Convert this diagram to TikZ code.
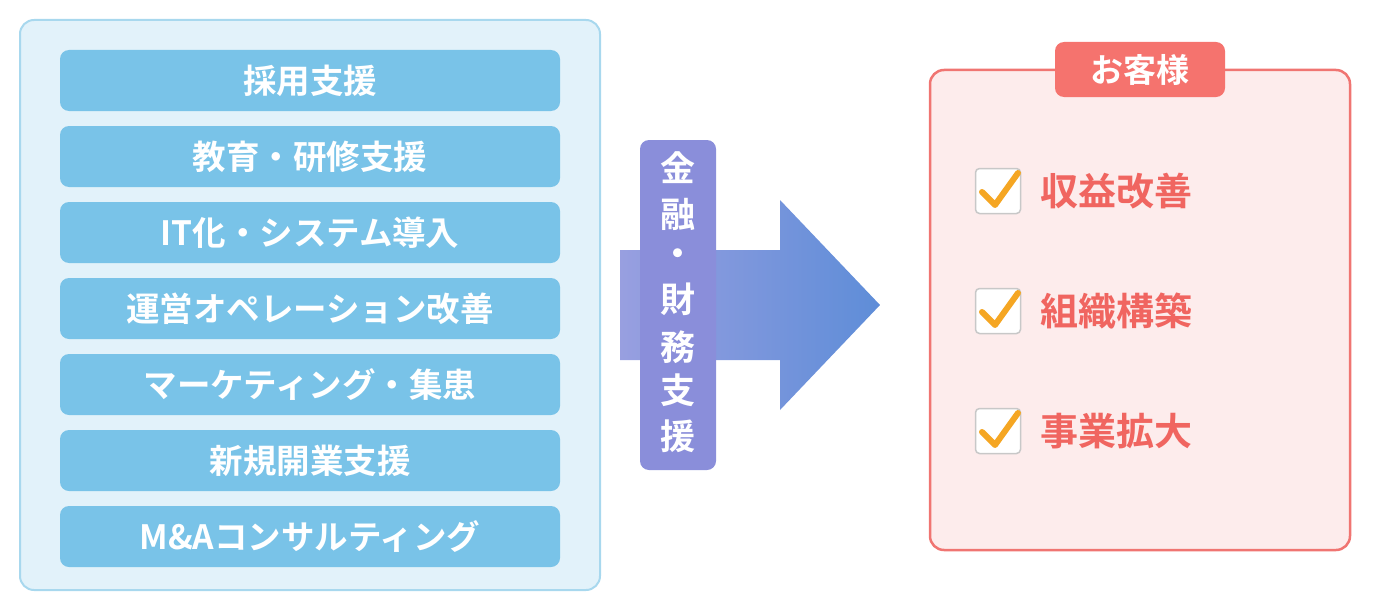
\documentclass[tikz,border=0pt]{standalone}
\usepackage{fontspec}
\setmainfont{Noto Sans CJK JP}[BoldFont={Noto Sans CJK JP Bold}]
\newfontfamily\jpb{Noto Sans CJK JP Bold}
\definecolor{outerfill}{HTML}{E2F2FA}
\definecolor{outerline}{HTML}{A8D8EE}
\definecolor{itemfill}{HTML}{79C3E8}
\definecolor{arrowL}{HTML}{989FE0}
\definecolor{arrowR}{HTML}{5E8DD8}
\definecolor{labelfill}{HTML}{8A8EDA}
\definecolor{custfill}{HTML}{FDECEC}
\definecolor{custline}{HTML}{F07572}
\definecolor{tabfill}{HTML}{F5736E}
\definecolor{goaltext}{HTML}{F06560}
\definecolor{boxline}{HTML}{C8C8C8}
\definecolor{checkcol}{HTML}{F5A623}
\begin{document}
\begin{tikzpicture}[x=1pt,y=-1pt,
  itembox/.style={fill=itemfill, rounded corners=9pt, minimum width=500pt, minimum height=61pt, inner sep=0pt,
    text=white, font=\jpb\fontsize{33.5}{33.5}\selectfont},
  goal/.style={anchor=west, text=goaltext, inner sep=0pt, font=\jpb\fontsize{38}{38}\selectfont},
  cbox/.style={draw=boxline, line width=1.5pt, fill=white, rounded corners=4pt, minimum size=45pt, inner sep=0pt},
  checkline/.style={draw=checkcol, line width=6pt, line cap=round, line join=round}]
\useasboundingbox (0,0) rectangle (1400,610);
% left panel
\node[draw=outerline, line width=2pt, fill=outerfill, rounded corners=14pt, minimum width=580pt, minimum height=570pt, inner sep=0pt] (panel) at (310,305) {};
\node[itembox] (i1) at (310,80.5) {採用支援};
\node[itembox] (i2) at (310,156.5) {教育・研修支援};
\node[itembox] (i3) at (310,232.5) {IT化・システム導入};
\node[itembox] (i4) at (310,308.5) {運営オペレーション改善};
\node[itembox] (i5) at (310,384.5) {マーケティング・集患};
\node[itembox] (i6) at (310,460.5) {新規開業支援};
\node[itembox] (i7) at (310,536.5) {M\&Aコンサルティング};
% arrow
\shade[left color=arrowL, right color=arrowR] (620,250) -- (780,250) -- (780,200) -- (880,305) -- (780,410) -- (780,360) -- (620,360) -- cycle;
\node[fill=labelfill, rounded corners=9pt, minimum width=76pt, minimum height=330pt, inner sep=0pt] (lbl) at (678,305) {};
\begin{scope}[every node/.style={text=white, inner sep=0pt, font=\jpb\fontsize{35}{35}\selectfont}]
\node (c1) at (678,168) {金};
\node (c2) at (678,214) {融};
\node (c3) at (678,258) {・};
\node (c4) at (678,299) {財};
\node (c5) at (678,347) {務};
\node (c6) at (678,390) {支};
\node (c7) at (678,436) {援};
\end{scope}
% right panel
\node[draw=custline, line width=2.5pt, fill=custfill, rounded corners=14pt, minimum width=420pt, minimum height=480pt, inner sep=0pt] (cust) at (1140,310) {};
\node[fill=tabfill, rounded corners=9pt, minimum width=170pt, minimum height=55pt, inner sep=0pt, text=white, font=\jpb\fontsize{33}{33}\selectfont] (tab) at (1140,69.5) {お客様};
% goals
\foreach \yy/\txt/\nm in {191/収益改善/g1, 311/組織構築/g2, 431/事業拡大/g3}{
  \node[cbox] (\nm box) at (998,\yy) {};
  \draw[checkline] ([shift={(-16,1)}]\nm box.center) -- ([shift={(-3,14)}]\nm box.center) -- ([shift={(20,-18)}]\nm box.center);
  \node[goal] (\nm) at (1040,\yy) {\txt};
}
\end{tikzpicture}
\end{document}
